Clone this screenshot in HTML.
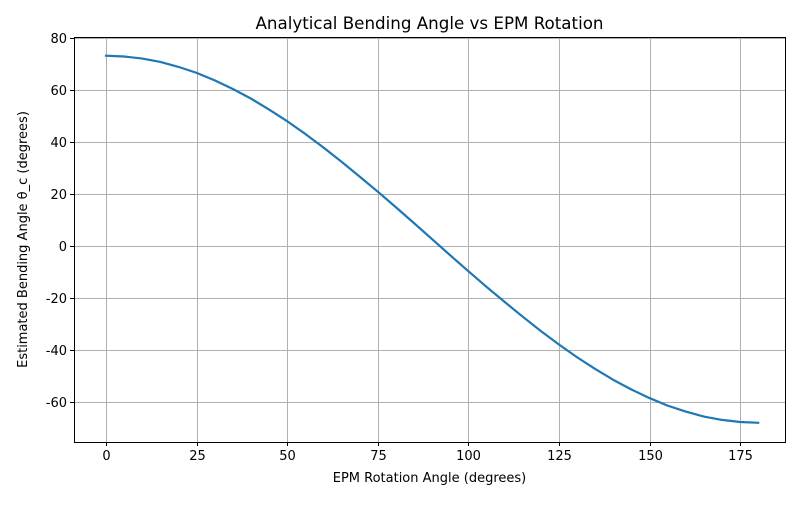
<!DOCTYPE html>
<html><head><meta charset="utf-8"><style>
body{margin:0;background:#fff}
svg text{font-family:"DejaVu Sans","Liberation Sans",sans-serif;fill:#000}
</style></head><body>
<svg id="chart" width="800" height="500" xmlns="http://www.w3.org/2000/svg"></svg>
<script>
const rotationAngles=[0,5,10,15,20,25,30,35,40,45,50,55,60,65,70,75,80,85,90,95,100,105,110,115,120,125,130,135,140,145,150,155,160,165,170,175,180];
const bendingAngles=[73.2,72.9,72.1,70.8,68.9,66.6,63.7,60.4,56.7,52.5,48.0,43.1,37.9,32.4,26.7,20.9,14.9,8.8,2.6,-3.6,-9.7,-15.7,-21.5,-27.2,-32.7,-37.9,-42.8,-47.3,-51.5,-55.2,-58.5,-61.4,-63.7,-65.6,-66.9,-67.7,-68.0];
const xTicks=[0,25,50,75,100,125,150,175];
const yTicks=[-60,-40,-20,0,20,40,60,80];

const L=74,R=785,T=37,B=442;
const xMin=-8.85,xMax=187.4,yMin=-75.4,yMax=80.4;
const sx=v=>L+(v-xMin)/(xMax-xMin)*(R-L);
const sy=v=>B-(v-yMin)/(yMax-yMin)*(B-T);
const px=v=>Math.round(v)+0.5;
const svg=document.getElementById('chart');
const NS='http://www.w3.org/2000/svg';
function mk(tag,attrs,parent){const e=document.createElementNS(NS,tag);for(const k in attrs)e.setAttribute(k,attrs[k]);(parent||svg).appendChild(e);return e;}

xTicks.forEach(t=>{
  const x=px(sx(t));
  const g=mk('line',{x1:x,x2:x,y1:T,y2:B,stroke:'#b0b0b0','stroke-width':1});
  
  
  mk('line',{x1:x,x2:x,y1:B,y2:B+4,stroke:'#000','stroke-width':1});
  const tx=mk('text',{x:x,y:B+18,'text-anchor':'middle','font-size':'13'});
  tx.textContent=t;
  
  
});
yTicks.forEach(t=>{
  const y=px(sy(t));
  const g=mk('line',{x1:L,x2:R,y1:y,y2:y,stroke:'#b0b0b0','stroke-width':1});
  
  
  mk('line',{x1:L-4,x2:L,y1:y,y2:y,stroke:'#000','stroke-width':1});
  const tx=mk('text',{x:L-7,y:y+4.5,'text-anchor':'end','font-size':'13'});
  tx.textContent=t;
  
  
});

const d=rotationAngles.map((v,i)=>(i?'L':'M')+sx(v).toFixed(2)+','+sy(bendingAngles[i]).toFixed(2)).join(' ');
const line=mk('path',{d:d,fill:'none',stroke:'#1f77b4','stroke-width':2.2,'stroke-linejoin':'round','stroke-linecap':'square'});



const frame=mk('rect',{x:L+0.5,y:T+0.5,width:R-L,height:B-T,fill:'none',stroke:'#000','stroke-width':1});



const title=mk('text',{x:(L+R)/2,y:29,'text-anchor':'middle','font-size':'16.7'});
title.textContent='Analytical Bending Angle vs EPM Rotation';



const xl=mk('text',{x:(L+R)/2,y:482,'text-anchor':'middle','font-size':'13'});
xl.textContent='EPM Rotation Angle (degrees)';



const yl=mk('text',{x:0,y:0,'text-anchor':'middle','font-size':'13',transform:'translate(27,'+((T+B)/2)+') rotate(-90)'});
yl.textContent='Estimated Bending Angle θ_c (degrees)';


</script>
</body></html>
